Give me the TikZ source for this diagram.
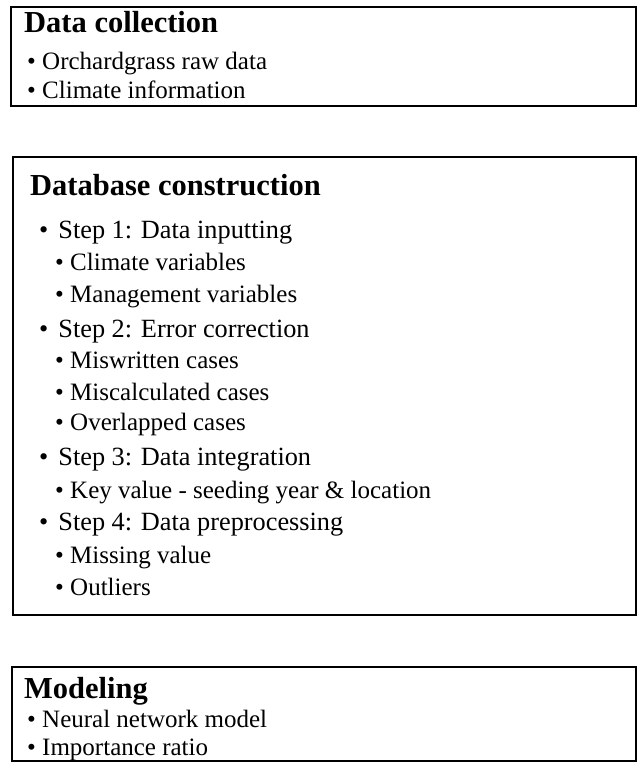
\documentclass[tikz,border=0pt]{standalone}
\usepackage{fontspec}
\setmainfont{Liberation Serif}
\begin{document}
\begin{tikzpicture}[x=1pt, y=-1pt,
                    frame/.style = {draw = black,
                                    line width = 1.6pt},
                    head/.style  = {anchor = base west,
                                    inner sep = 0pt,
                                    font = \fontsize{30.5}{36}\selectfont\bfseries},
                    item/.style  = {anchor = base west,
                                    inner sep = 0pt,
                                    font = \fontsize{25}{30}\selectfont},
                    stepitem/.style = {item,
                                    font = \fontsize{26.3}{31}\selectfont}]
		\useasboundingbox (0,0) rectangle (637,762);
		% boxes
		\draw[frame] (11,7) rectangle (636,106);
		\draw[frame] (13,157) rectangle (636,615);
		\draw[frame] (12,667) rectangle (636,761);
		% data collection
		\node[head] (dchead) at (24,33) {Data collection};
		\node[item] (dc1) at (27,70) {\textbullet\ Orchardgrass raw data};
		\node[item] (dc2) at (27,99) {\textbullet\ Climate information};
		% database construction
		\node[head] (dbhead) at (30,195) {Database construction};
		\node[stepitem] (s1) at (39,238) {\textbullet\hspace{10pt}Step 1: Data inputting};
		\node[item] (s1a) at (55,270) {\textbullet\ Climate variables};
		\node[item] (s1b) at (55,302) {\textbullet\ Management variables};
		\node[stepitem] (s2) at (39,337) {\textbullet\hspace{10pt}Step 2: Error correction};
		\node[item] (s2a) at (55,368) {\textbullet\ Miswritten cases};
		\node[item] (s2b) at (55,400) {\textbullet\ Miscalculated cases};
		\node[item] (s2c) at (55,430) {\textbullet\ Overlapped cases};
		\node[stepitem] (s3) at (39,465) {\textbullet\hspace{10pt}Step 3: Data integration};
		\node[item] (s3a) at (55,498) {\textbullet\ Key value - seeding year \& location};
		\node[stepitem] (s4) at (39,530) {\textbullet\hspace{10pt}Step 4: Data preprocessing};
		\node[item] (s4a) at (55,563) {\textbullet\ Missing value};
		\node[item] (s4b) at (55,595) {\textbullet\ Outliers};
		% modeling
		\node[head] (mdhead) at (24,698) {Modeling};
		\node[item] (md1) at (27,727) {\textbullet\ Neural network model};
		\node[item] (md2) at (27,755) {\textbullet\ Importance ratio};
	\end{tikzpicture}
\end{document}
